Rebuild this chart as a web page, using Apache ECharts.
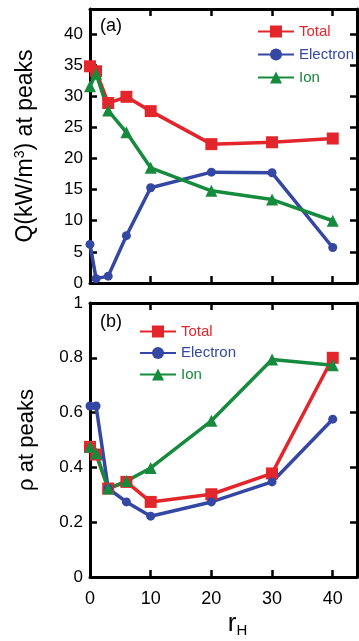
<!DOCTYPE html>
<html>
<head>
<meta charset="utf-8">
<script src="https://cdn.jsdelivr.net/npm/echarts@6/dist/echarts.min.js"></script>
<style>
html,body{margin:0;padding:0;background:#fff;}
#c{width:359px;height:641px;}
</style>
</head>
<body>
<div id="c"></div>
<script>
var rH = [0, 1, 3, 6, 10, 20, 30, 40];
var qTotal    = [34.8, 34.0, 28.9, 29.9, 27.6, 22.3, 22.6, 23.2];
var qElectron = [6.2, 0.7, 1.1, 7.6, 15.3, 17.8, 17.7, 5.7];
var qIon      = [31.6, 33.6, 27.7, 24.2, 18.5, 14.8, 13.4, 10.0];
var rhoTotal    = [0.475, 0.447, 0.323, 0.347, 0.274, 0.302, 0.378, 0.80];
var rhoElectron = [0.624, 0.624, 0.323, 0.274, 0.222, 0.274, 0.347, 0.576];
var rhoIon      = [0.475, 0.452, 0.323, 0.35, 0.398, 0.57, 0.794, 0.773];
var xTicks = [0, 10, 20, 30, 40];

var RED = '#e3262c', BLUE = '#3447a3', GREEN = '#168a3d';
var FONT = '"Liberation Sans", Arial, sans-serif';

function pairs(xs, ys){ return xs.map(function(x,i){ return [x, ys[i]]; }); }

var lineW = 3;
function xAx(grid, pos, showLabel){
  return {
    type:'value', gridIndex:grid, position:pos, min:0, max:44, interval:10,
    axisLine:{show:true, onZero:false, lineStyle:{color:'#000', width:lineW}},
    axisTick:{show:true, inside:true, length:7, lineStyle:{color:'#000', width:2.5},
      customValues: xTicks},
    axisLabel:{show:showLabel, color:'#000', fontSize:18, fontFamily:FONT, margin:13,
      customValues: xTicks},
    splitLine:{show:false}
  };
}
function yAx(grid, pos, max, interval, showLabel, fmt){
  return {
    type:'value', gridIndex:grid, position:pos, min:0, max:max, interval:interval,
    axisLine:{show:true, onZero:false, lineStyle:{color:'#000', width:lineW}},
    axisTick:{show:true, inside:true, length:7, lineStyle:{color:'#000', width:2.5}},
    axisLabel:{show:showLabel, color:'#000', fontSize:17, fontFamily:FONT, margin:7, formatter:fmt},
    splitLine:{show:false}
  };
}

function ser(name, data, xi, yi, color, sym, size){
  return {
    name:name, type:'line', xAxisIndex:xi, yAxisIndex:yi, data:data,
    symbol:sym, symbolSize:size, showSymbol:true,
    lineStyle:{color:color, width:3.5}, itemStyle:{color:color},
    emphasis:{disabled:true}, animation:false
  };
}

var chart = echarts.init(document.getElementById('c'), null, {renderer:'canvas'});
var legendData = [
  {name:'Total', textStyle:{color:RED}},
  {name:'Electron', textStyle:{color:BLUE}},
  {name:'Ion', textStyle:{color:GREEN}}
];
chart.setOption({
  animation:false,
  backgroundColor:'#fff',
  textStyle:{fontFamily:FONT},
  grid:[
    {left:90, top:9, width:267, height:274},
    {left:90, top:303, width:267, height:274}
  ],
  xAxis:[
    xAx(0,'bottom',false),
    xAx(0,'top',false),
    Object.assign(xAx(1,'bottom',true), {
      name:'{r|r}{s|H}', nameLocation:'middle', nameGap:32,
      nameTextStyle:{color:'#000', padding:[0,0,0,28],
        rich:{r:{fontSize:26, fontFamily:FONT, color:'#000'},
              s:{fontSize:15, fontFamily:FONT, color:'#000', padding:[14,0,0,0]}}}
    }),
    xAx(1,'top',false)
  ],
  yAxis:[
    Object.assign(yAx(0,'left',44,5,true,function(v){ return v<=40 ? String(v) : ''; }), {
      name:'Q(kW/m{sup|3}) at peaks', nameLocation:'middle', nameGap:52,
      nameTextStyle:{color:'#000', fontSize:23, fontFamily:FONT,
        rich:{sup:{fontSize:14, fontFamily:FONT, color:'#000', padding:[0,0,11,0]}}}
    }),
    yAx(0,'right',44,5,false),
    Object.assign(yAx(1,'left',1,0.2,true,function(v){ return v===0?'0':(v===1?'1':v.toFixed(1)); }), {
      name:'ρ at peaks', nameLocation:'middle', nameGap:52,
      nameTextStyle:{color:'#000', fontSize:22, fontFamily:FONT}
    }),
    yAx(1,'right',1,0.2,false)
  ],
  legend:[
    {orient:'vertical', left:257, top:24, itemWidth:36, itemHeight:15, itemGap:8, padding:0,
     textStyle:{fontSize:15, fontFamily:FONT}, data:legendData, selectedMode:false},
    {orient:'vertical', left:139, top:324, itemWidth:36, itemHeight:15, itemGap:6.5, padding:0,
     textStyle:{fontSize:15, fontFamily:FONT}, data:legendData, selectedMode:false}
  ],
  graphic:[
    {type:'text', left:100, top:17, style:{text:'(a)', font:'18px '+FONT, fill:'#000'}},
    {type:'text', left:100, top:313, style:{text:'(b)', font:'18px '+FONT, fill:'#000'}}
  ],
  series:[
    ser('Total', pairs(rH,qTotal), 0, 0, RED, 'rect', 12),
    ser('Electron', pairs(rH,qElectron), 0, 0, BLUE, 'circle', 9),
    ser('Ion', pairs(rH,qIon), 0, 0, GREEN, 'triangle', 12),
    ser('Total', pairs(rH,rhoTotal), 2, 2, RED, 'rect', 12),
    ser('Electron', pairs(rH,rhoElectron), 2, 2, BLUE, 'circle', 9),
    ser('Ion', pairs(rH,rhoIon), 2, 2, GREEN, 'triangle', 12)
  ]
});
</script>
</body>
</html>
